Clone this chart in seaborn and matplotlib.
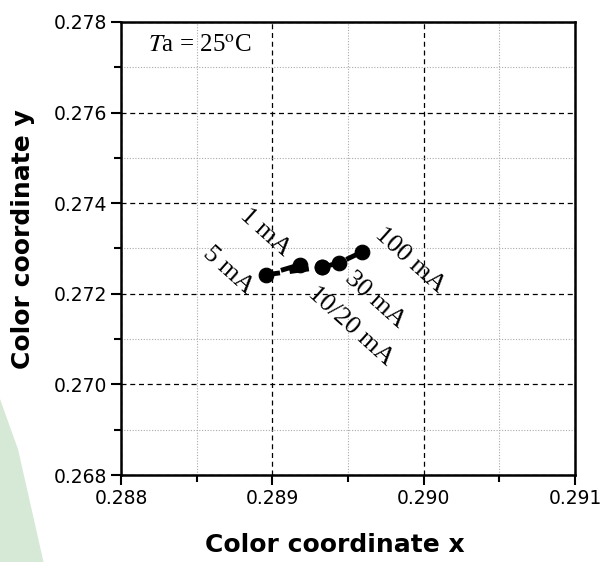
import numpy as np
import pandas as pd
import matplotlib
matplotlib.use("Agg")
import matplotlib.pyplot as plt
from matplotlib.ticker import MultipleLocator, FormatStrFormatter
from matplotlib.patches import Polygon
import seaborn as sns

# data
currents = ["1 mA", "5 mA", "10 mA", "20 mA", "30 mA", "100 mA"]
cie_x = [0.28918, 0.28896, 0.28933, 0.28933, 0.28944, 0.28959]
cie_y = [0.27264, 0.27242, 0.27259, 0.27259, 0.27268, 0.27292]

# labels placed next to the points
label_text = ["1 mA", "5 mA", "10/20 mA", "30 mA", "100 mA"]
label_x = [0.28895, 0.28871, 0.28952, 0.28968, 0.28991]
label_y = [0.27336, 0.27252, 0.27128, 0.27186, 0.27274]

df = pd.DataFrame({"current": currents, "x": cie_x, "y": cie_y})

sns.set_style("ticks")
plt.rcParams["font.family"] = ["DejaVu Sans"]
plt.rcParams["mathtext.fontset"] = "stix"
plt.rcParams["text.color"] = "black"
plt.rcParams["axes.labelcolor"] = "black"
plt.rcParams["xtick.color"] = "black"
plt.rcParams["ytick.color"] = "black"

fig = plt.figure(figsize=(6.04, 5.62), dpi=100)
ax = fig.add_axes([0.2003, 0.1548, 0.7517, 0.8061])

# faint green watermark at the lower left
fig.patches.append(Polygon([[0, 0.29], [0.03, 0.2], [0.072, 0.0], [0, 0.0]],
                           closed=True, transform=fig.transFigure,
                           facecolor="#d6e8d6", edgecolor="none", zorder=-1))

sns.lineplot(data=df, x="x", y="y", sort=False, ax=ax, color="black",
             linewidth=3.5, dashes=False, zorder=3)
ax.lines[0].set_dashes([4, 2])
sns.scatterplot(data=df, x="x", y="y", ax=ax, color="black", s=110,
                edgecolor="black", zorder=4)

for t, lx, ly in zip(label_text, label_x, label_y):
    ax.text(lx, ly, t, rotation=-42, rotation_mode="anchor", ha="center",
            va="center", fontsize=19, family="Liberation Serif")

ax.text(0.28818, 0.27747, r"$T$a = 25$^{\rm o}$C", fontsize=18,
        family="Liberation Serif", ha="left", va="center")

ax.set_xlim(0.288, 0.291)
ax.set_ylim(0.268, 0.278)
ax.xaxis.set_major_locator(MultipleLocator(0.001))
ax.xaxis.set_minor_locator(MultipleLocator(0.0005))
ax.yaxis.set_major_locator(MultipleLocator(0.002))
ax.yaxis.set_minor_locator(MultipleLocator(0.001))
ax.xaxis.set_major_formatter(FormatStrFormatter("%.3f"))
ax.yaxis.set_major_formatter(FormatStrFormatter("%.3f"))

ax.grid(which="major", color="black", linestyle=(0, (4, 3)), linewidth=0.9)
ax.grid(which="minor", color="#aaaaaa", linestyle=(0, (1, 1.5)), linewidth=0.8)
ax.set_axisbelow(True)

ax.tick_params(which="major", direction="out", length=7, width=1.5,
               labelsize=13.5, pad=3)
ax.tick_params(which="minor", direction="out", length=5, width=1.5)
for s in ax.spines.values():
    s.set_linewidth(1.8)
    s.set_color("black")

ax.set_xlabel("Color coordinate x", fontsize=18, fontweight="bold")
ax.set_ylabel("Color coordinate y", fontsize=18, fontweight="bold")
ax.xaxis.set_label_coords(0.471, -0.128)
ax.yaxis.set_label_coords(-0.19, 0.52)

fig.savefig("out.png", dpi=100)
